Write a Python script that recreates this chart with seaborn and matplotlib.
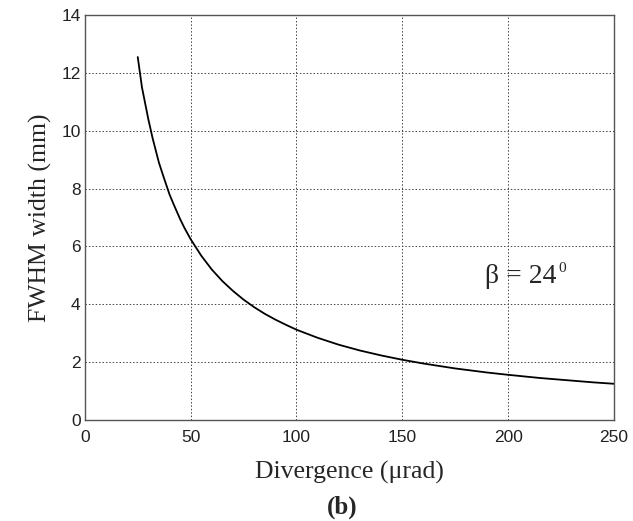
import numpy as np
import pandas as pd
import matplotlib
matplotlib.use("Agg")
import matplotlib.pyplot as plt
import seaborn as sns

# values
divergence = [25, 27, 30, 32, 35, 37, 40, 42, 45, 47, 50, 55, 60, 65, 70, 75, 80,
              85, 90, 95, 100, 110, 120, 130, 140, 150, 160, 175, 190, 200, 215,
              225, 240, 250]
fwhm = [12.55, 11.5, 10.4, 9.75, 8.9, 8.45, 7.8, 7.45, 6.95, 6.65, 6.25, 5.68,
        5.2, 4.8, 4.46, 4.16, 3.9, 3.67, 3.47, 3.29, 3.12, 2.84, 2.6, 2.4, 2.23,
        2.08, 1.95, 1.78, 1.64, 1.56, 1.45, 1.39, 1.3, 1.25]
x_ticks = [0, 50, 100, 150, 200, 250]
y_ticks = [0, 2, 4, 6, 8, 10, 12, 14]

df = pd.DataFrame({"divergence": divergence, "fwhm": fwhm})

sns.set_style("whitegrid")
plt.rcParams['font.family'] = ['Liberation Sans', 'DejaVu Sans']

fig = plt.figure(figsize=(6.33, 5.21), dpi=100)
ax = fig.add_axes([0.134, 0.194, 0.836, 0.777])

sns.lineplot(data=df, x="divergence", y="fwhm", color="black", linewidth=1.3, ax=ax)

ax.set_xlim(0, 250)
ax.set_ylim(0, 14)
ax.set_xticks(x_ticks)
ax.set_yticks(y_ticks)
ax.tick_params(labelsize=12.5, colors="#222222", direction="in", length=3)
ax.tick_params(axis="x", pad=7)
ax.tick_params(axis="y", pad=3)
ax.grid(True, linestyle=(0, (1.5, 2)), color="#444444", linewidth=0.7)
for s in ax.spines.values():
    s.set_color("#555555")
    s.set_linewidth(1.0)

serif = ['Liberation Serif', 'DejaVu Serif']
ax.set_xlabel("Divergence (\u03bcrad)", family=serif, fontsize=18.5, labelpad=12)
ax.set_ylabel("FWHM width (mm)", family=serif, fontsize=18.5, labelpad=7)

ax.text(189, 4.74, "\u03b2 = 24", family=serif, fontsize=20, ha="left", va="baseline")
ax.text(223.5, 5.12, "0", family=serif, fontsize=11, ha="left", va="baseline")
fig.text(0.540, 0.015, "(b)", family=serif, fontsize=18, fontweight="bold", ha="center",
         va="baseline")

fig.savefig("out.png", dpi=100)
